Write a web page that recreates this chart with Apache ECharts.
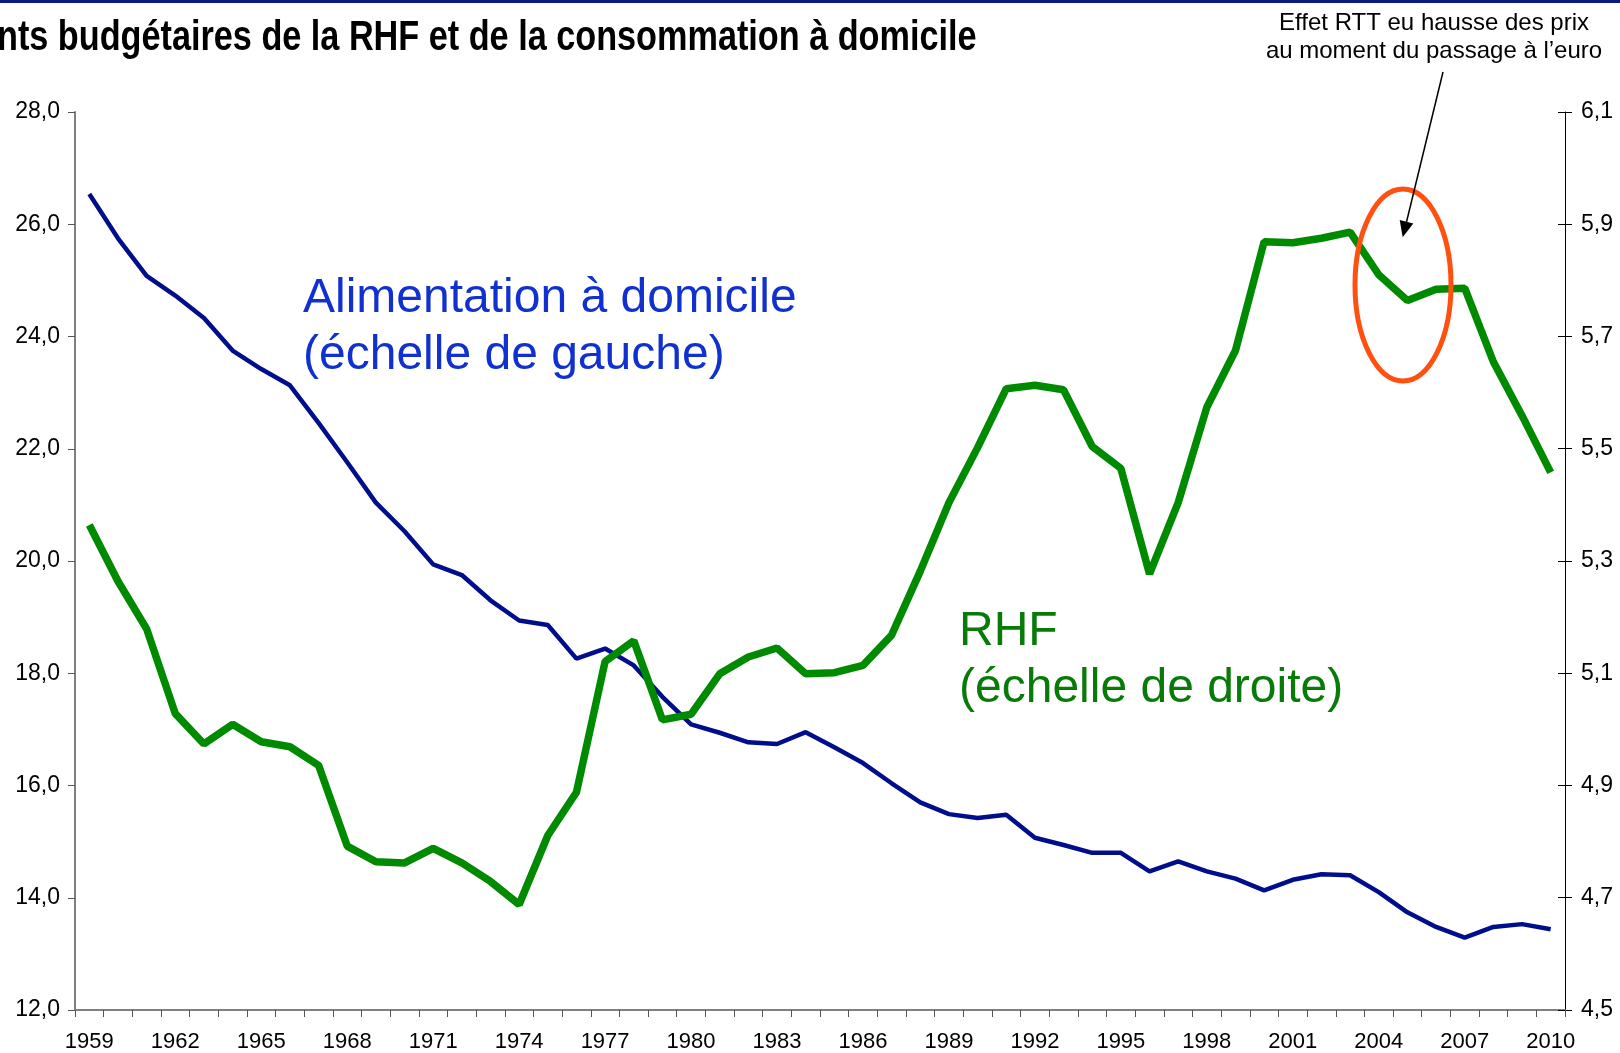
<!DOCTYPE html>
<html>
<head>
<meta charset="utf-8">
<script src="https://cdn.jsdelivr.net/npm/echarts@6/dist/echarts.min.js"></script>
<style>
html,body{margin:0;padding:0;background:#fff;}
#chart{width:1620px;height:1053px;}
</style>
</head>
<body>
<div id="chart"></div>
<script>
var years = ['1959','1960','1961','1962','1963','1964','1965','1966','1967','1968',
  '1969','1970','1971','1972','1973','1974','1975','1976','1977','1978',
  '1979','1980','1981','1982','1983','1984','1985','1986','1987','1988',
  '1989','1990','1991','1992','1993','1994','1995','1996','1997','1998',
  '1999','2000','2001','2002','2003','2004','2005','2006','2007','2008',
  '2009','2010'];

var alimentation = [26.54, 25.75, 25.08, 24.73, 24.33, 23.75, 23.42, 23.13, 22.46, 21.76,
  21.04, 20.53, 19.94, 19.75, 19.30, 18.94, 18.86, 18.26, 18.44, 18.14,
  17.58, 17.09, 16.94, 16.77, 16.74, 16.95, 16.68, 16.40, 16.04, 15.70,
  15.49, 15.42, 15.48, 15.07, 14.94, 14.80, 14.80, 14.47, 14.65, 14.47,
  14.34, 14.13, 14.32, 14.42, 14.40, 14.10, 13.74, 13.48, 13.29, 13.48,
  13.53, 13.44];

var rhf = [5.364, 5.264, 5.179, 5.028, 4.974, 5.009, 4.978, 4.969, 4.936, 4.792,
  4.764, 4.762, 4.788, 4.762, 4.729, 4.688, 4.811, 4.888, 5.121, 5.158,
  5.017, 5.027, 5.099, 5.129, 5.145, 5.099, 5.101, 5.114, 5.168, 5.282,
  5.404, 5.502, 5.607, 5.613, 5.605, 5.504, 5.465, 5.277, 5.404, 5.574,
  5.675, 5.869, 5.867, 5.875, 5.886, 5.810, 5.764, 5.784, 5.786, 5.655,
  5.559, 5.458];

var leftTicks = [12, 14, 16, 18, 20, 22, 24, 26, 28];
var rightTicks = [4.5, 4.7, 4.9, 5.1, 5.3, 5.5, 5.7, 5.9, 6.1];

var titleText = 'nts budgétaires de la RHF et de la consommation à domicile';
var noteText = 'Effet RTT eu hausse des prix\nau moment du passage à l\u2019euro';
var labelAlim = 'Alimentation à domicile\n(échelle de gauche)';
var labelRhf = 'RHF\n(échelle de droite)';

function fr1(v) { return Number(v).toFixed(1).replace('.', ','); }

var FONT = '"Liberation Sans", Arial, sans-serif';

var chart = echarts.init(document.getElementById('chart'), null, {renderer: 'canvas'});

var option = {
  animation: false,
  backgroundColor: '#ffffff',
  grid: {left: 75, right: 55, top: 112, bottom: 43, containLabel: false},
  xAxis: {
    type: 'category',
    data: years,
    boundaryGap: true,
    axisLine: {show: true, lineStyle: {color: '#808080', width: 2}},
    axisTick: {show: true, interval: 0, length: 7, lineStyle: {color: '#555555', width: 1}},
    axisLabel: {interval: 2, fontFamily: FONT, fontSize: 22, color: '#000', margin: 21},
    splitLine: {show: false}
  },
  yAxis: [
    {
      type: 'value', position: 'left', min: 12, max: 28, interval: 2,
      axisLine: {show: true, lineStyle: {color: '#808080', width: 2}},
      axisTick: {show: true, length: 7, lineStyle: {color: '#555555'}, customValues: leftTicks},
      axisLabel: {fontFamily: FONT, fontSize: 23, color: '#000', margin: 15,
        customValues: leftTicks, formatter: fr1},
      splitLine: {show: false}
    },
    {
      type: 'value', position: 'right', min: 4.5, max: 6.1, interval: 0.2,
      axisLine: {show: true, lineStyle: {color: '#000', width: 1}},
      axisTick: {show: true, length: 7, lineStyle: {color: '#000'}, customValues: rightTicks},
      axisLabel: {fontFamily: FONT, fontSize: 23, color: '#000', margin: 16,
        customValues: rightTicks, formatter: fr1},
      splitLine: {show: false}
    },
    {
      type: 'value', position: 'right', min: 4.5, max: 6.1, interval: 0.2,
      axisLine: {show: false},
      axisTick: {show: true, inside: true, length: 7, lineStyle: {color: '#000'}, customValues: rightTicks},
      axisLabel: {show: false},
      splitLine: {show: false}
    }
  ],
  series: [
    {
      name: 'Alimentation à domicile', type: 'line', yAxisIndex: 0,
      data: alimentation, symbol: 'none',
      lineStyle: {color: '#000E8C', width: 4.5},
      z: 2
    },
    {
      name: 'RHF', type: 'line', yAxisIndex: 1,
      data: rhf, symbol: 'none',
      lineStyle: {color: '#008A00', width: 7.5},
      z: 3
    }
  ],
  graphic: [
    {type: 'rect', shape: {x: 0, y: 0, width: 1620, height: 3}, style: {fill: '#0A1A80'}, z: 10},
    {type: 'text', x: -3, y: 38, scaleX: 0.815, z: 10,
      style: {text: titleText, font: 'bold 42px ' + FONT, fill: '#000', textAlign: 'left', textVerticalAlign: 'middle'}},
    {type: 'text', x: 1434, y: 9, z: 10,
      style: {text: noteText, font: '24px ' + FONT, fill: '#000', textAlign: 'center', textVerticalAlign: 'top', lineHeight: 28}},
    {type: 'text', x: 303, y: 270, z: 10,
      style: {text: labelAlim, font: '48px ' + FONT, fill: '#1030D0', textAlign: 'left', textVerticalAlign: 'top', lineHeight: 57}},
    {type: 'text', x: 959, y: 603, z: 10,
      style: {text: labelRhf, font: '48px ' + FONT, fill: '#077A07', textAlign: 'left', textVerticalAlign: 'top', lineHeight: 57}},
    {type: 'ellipse', shape: {cx: 1403, cy: 285, rx: 48, ry: 96}, z: 10,
      style: {fill: null, stroke: '#FF5010', lineWidth: 5}},
    {type: 'line', shape: {x1: 1443, y1: 72, x2: 1406.5, y2: 222}, z: 10,
      style: {stroke: '#000', lineWidth: 1.5}},
    {type: 'polygon', shape: {points: [[1402.7, 237.3], [1413.3, 223.5], [1399.7, 220.1]]}, z: 10,
      style: {fill: '#000'}}
  ]
};

chart.setOption(option);
</script>
</body>
</html>
